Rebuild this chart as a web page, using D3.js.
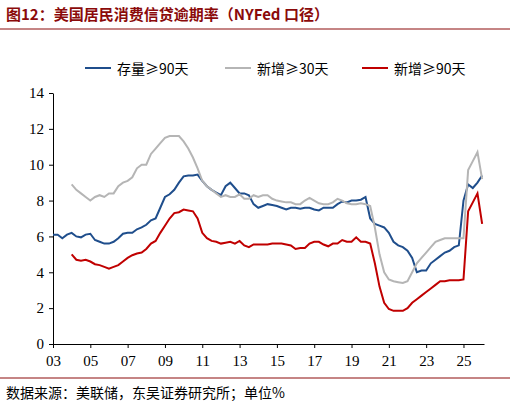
<!DOCTYPE html>
<html><head><meta charset="utf-8">
<script src="https://cdn.jsdelivr.net/npm/d3@7"></script>
<style>body{margin:0;background:#fff}</style>
</head><body><svg id="c" width="510" height="414"></svg>
<script>
// quarterly values, first point at start of start year
const blue = [6.1,6.1,5.9,6.1, 6.2,6.0,5.95,6.1, 6.15,5.8,5.7,5.6, 5.6,5.7,5.9,6.15, 6.2,6.2,6.4,6.5,
  6.65,6.9,7.0,7.6, 8.2,8.35,8.6,9.0, 9.35,9.4,9.4,9.45, 9.1,8.8,8.6,8.45, 8.3,8.8,9.0,8.7,
  8.4,8.4,8.3,7.8, 7.6,7.7,7.8,7.75, 7.7,7.6,7.5,7.6, 7.6,7.55,7.6,7.6, 7.5,7.45,7.6,7.6,
  7.6,7.8,7.95,7.9, 8.0,8.0,8.05,8.2, 7.0,6.7,6.6,6.5, 6.2,5.7,5.5,5.4, 5.2,4.8,4.0,4.1,
  4.1,4.5,4.7,4.9, 5.1,5.2,5.4,5.5, 8.0,8.9,8.7,9.0, 9.4];
const gray = [8.9,8.6,8.4,8.2, 8.0,8.2,8.3,8.2, 8.4,8.4,8.8,9.0, 9.1,9.3,9.8,10.0, 10.0,10.6,10.9,11.2,
  11.5,11.6,11.6,11.6, 11.3,10.9,10.4,9.8, 9.1,8.8,8.6,8.4, 8.2,8.3,8.2,8.2, 8.35,8.1,8.1,8.3,
  8.2,8.3,8.3,8.1, 8.0,7.95,7.9,7.9, 7.8,7.8,8.0,8.15, 8.0,7.85,7.8,7.8, 7.9,8.1,8.0,7.85,
  7.8,7.8,7.85,7.8, 7.7,6.5,5.0,4.0, 3.6,3.5,3.45,3.4, 3.5,4.0,4.5,4.8, 5.1,5.4,5.7,5.8,
  5.9,5.9,5.9,5.9, 5.9,9.7,10.2,10.7, 9.2];
const red = [5.0,4.7,4.65,4.7, 4.6,4.45,4.4,4.3, 4.2,4.3,4.4,4.6, 4.8,4.95,5.05,5.1, 5.3,5.6,5.75,6.2,
  6.6,7.0,7.3,7.35, 7.5,7.45,7.4,7.0, 6.2,5.9,5.75,5.7, 5.6,5.65,5.7,5.6, 5.75,5.5,5.4,5.55,
  5.55,5.55,5.55,5.6, 5.6,5.6,5.55,5.5, 5.3,5.35,5.35,5.6, 5.7,5.7,5.55,5.45, 5.6,5.6,5.8,5.7,
  5.7,5.95,5.7,5.7, 5.6,4.5,3.2,2.3, 1.95,1.85,1.85,1.85, 2.0,2.3,2.5,2.7, 2.9,3.1,3.3,3.5,
  3.5,3.55,3.55,3.55, 3.6,7.4,7.9,8.4, 6.7];
const startYear = {blue: 2003, gray: 2004, red: 2004};
const xTicks = [2003,2005,2007,2009,2011,2013,2015,2017,2019,2021,2023,2025];
const yTicks = [0,2,4,6,8,10,12,14];
const names = ["存量≥90天","新增≥30天","新增≥90天"];
const colors = ["#1F4E8C","#B5B5B5","#C00000"];

const svg = d3.select("#c");
const x = d3.scaleLinear().domain([2003, 2026.1]).range([53, 484]);
const y = d3.scaleLinear().domain([0, 14]).range([344, 93]);
const serif = "'Liberation Serif','Times New Roman',serif";
const cjk = "'Noto Sans CJK SC',sans-serif";

svg.append("text").attr("x", 6).attr("y", 20).attr("fill", "#8B0A0A")
  .attr("font-family", cjk).attr("font-weight", "bold").attr("font-size", 15)
  .text("图12：美国居民消费信贷逾期率（NYFed 口径）");
svg.append("line").attr("x1", 0).attr("x2", 510).attr("y1", 29).attr("y2", 29)
  .attr("stroke", "#8B0A0A").attr("stroke-width", 1);

const ya = svg.append("g").attr("transform", "translate(53,0)")
  .call(d3.axisLeft(y).tickValues(yTicks).tickSize(4).tickSizeOuter(0));
const xa = svg.append("g").attr("transform", "translate(0,344)")
  .call(d3.axisBottom(x).tickValues(xTicks).tickSize(4).tickSizeOuter(0)
    .tickFormat(d => String(d % 100).padStart(2, "0")));
[ya, xa].forEach(a => {
  a.select(".domain").attr("stroke", "#000");
  a.selectAll("text").attr("font-family", serif).attr("font-size", 15).attr("fill", "#000");
});
xa.selectAll("text").attr("dy", "1em");
ya.selectAll("text").attr("dx", "-2");

const line = d3.line().x(d => x(d[0])).y(d => y(d[1]));
[[blue, "blue"], [gray, "gray"], [red, "red"]].forEach(([vals, k], i) => {
  const pts = vals.map((v, j) => [startYear[k] + j / 4, v]);
  svg.append("path").datum(pts).attr("d", line).attr("fill", "none")
    .attr("stroke", colors[i]).attr("stroke-width", 2);
});

const lg = svg.append("g");
const lx = [85, 225, 362];
names.forEach((n, i) => {
  lg.append("line").attr("x1", lx[i]).attr("x2", lx[i] + 26).attr("y1", 68).attr("y2", 68)
    .attr("stroke", colors[i]).attr("stroke-width", 2);
  lg.append("text").attr("x", lx[i] + 32).attr("y", 74).attr("font-family", cjk)
    .attr("font-size", 14).attr("fill", "#000").text(n);
});

svg.append("line").attr("x1", 0).attr("x2", 510).attr("y1", 378).attr("y2", 378)
  .attr("stroke", "#8B0A0A").attr("stroke-width", 1);
svg.append("text").attr("x", 6).attr("y", 398).attr("font-family", cjk)
  .attr("font-size", 14).attr("fill", "#000").text("数据来源：美联储，东吴证券研究所；单位%");
</script></body></html>
